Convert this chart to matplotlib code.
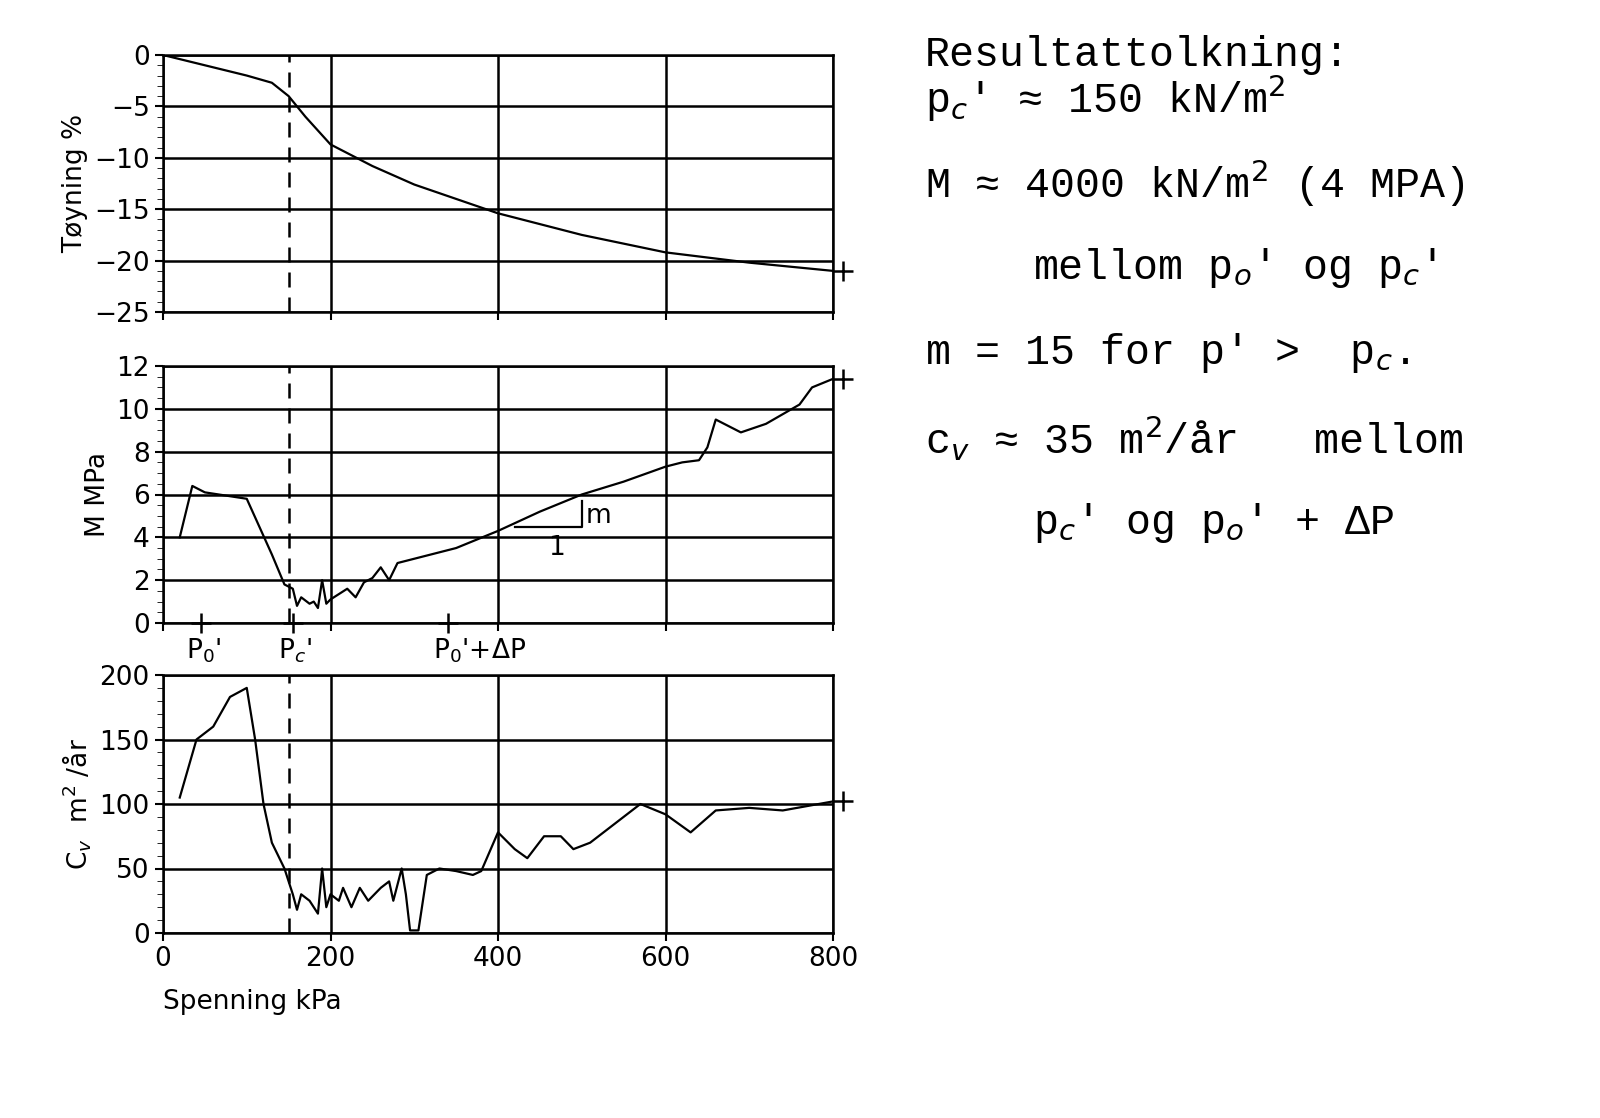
import matplotlib
matplotlib.use("Agg")
import matplotlib.pyplot as plt
from matplotlib.ticker import MultipleLocator
from matplotlib.transforms import ScaledTranslation

strain_x = [0, 50, 100, 130, 150, 170, 200, 250, 300, 400, 500, 600, 700, 800]
strain_y = [0, -1, -2, -2.7, -4, -6, -8.7, -10.8, -12.6, -15.4, -17.5, -19.2, -20.2, -21]

m_x = [20, 35, 50, 100, 130, 145, 155, 160, 165, 175, 180, 185, 190, 195, 200, 220, 230, 240, 250, 260,
       270, 280, 300, 350, 400, 450, 500, 550, 600, 620, 640, 650, 660, 690, 720, 760, 775, 800]
m_y = [4, 6.4, 6.1, 5.8, 3.2, 1.8, 1.6, 0.8, 1.2, 0.9, 1.0, 0.7, 2.0, 0.9, 1.1, 1.6, 1.2, 1.9, 2.1, 2.6,
       2.0, 2.8, 3.0, 3.5, 4.3, 5.2, 6.0, 6.6, 7.3, 7.5, 7.6, 8.2, 9.5, 8.9, 9.3, 10.2, 11.0, 11.4]

cv_x = [20, 40, 60, 80, 100, 110, 120, 130, 145, 155, 160, 165, 175, 185, 190, 195, 200, 210, 215, 225,
        235, 245, 260, 270, 275, 285, 290, 295, 305, 315, 330, 350, 370, 380, 400, 420, 435, 455, 475,
        490, 510, 540, 570, 600, 630, 660, 700, 740, 800]
cv_y = [105, 150, 160, 183, 190, 150, 100, 70, 50, 30, 18, 30, 25, 15, 50, 20, 30, 25, 35, 20,
        35, 25, 35, 40, 25, 50, 30, 2, 2, 45, 50, 48, 45, 48, 78, 65, 58, 75, 75,
        65, 70, 85, 100, 92, 78, 95, 97, 95, 102]

marker_x = [45, 155, 340]
marker_labels = ["P$_0$'", "P$_c$'", "P$_0$'+ΔP"]

info_lines = [
    ("Resultattolkning:", 0.0),
    ("p$_c$' ≈ 150 kN/m$^2$", 0.0),
    ("M ≈ 4000 kN/m$^2$ (4 MPA)", 0.0),
    ("mellom p$_o$' og p$_c$'", 0.27),
    ("m = 15 for p' >  p$_c$.", 0.0),
    ("c$_v$ ≈ 35 m$^2$/år   mellom", 0.0),
    ("p$_c$' og p$_o$' + ΔP", 0.27),
]

W, H = 1600, 1118
fig = plt.figure(figsize=(16, 11.18), dpi=100)
x0, x1 = 163, 833
def ax_at(top, bot):
    return fig.add_axes([x0 / W, 1 - bot / H, (x1 - x0) / W, (bot - top) / H])

shift = ScaledTranslation(0.1, 0, fig.dpi_scale_trans)

ax1 = ax_at(55, 312)
ax2 = ax_at(366, 623)
ax3 = ax_at(675, 933)
fs = 19
for ax in (ax1, ax2, ax3):
    ax.set_xlim(0, 800)
    ax.xaxis.set_major_locator(MultipleLocator(200))
    ax.grid(True, color="black", lw=1.8)
    for s in ax.spines.values():
        s.set_linewidth(1.8)
    ax.tick_params(labelsize=fs, width=1.5, length=6)
    ax.tick_params(which="minor", length=4)
    ax.axvline(150, color="black", ls=(0, (6, 4)), lw=1.8)

def end_plus(ax, x, y):
    ax.plot([x], [y], "k+", ms=14, mew=1.8, clip_on=False, transform=ax.transData + shift)

ax1.plot(strain_x, strain_y, color="black", lw=1.6)
end_plus(ax1, strain_x[-1], strain_y[-1])
ax1.set_ylim(-25, 0)
ax1.yaxis.set_major_locator(MultipleLocator(5))
ax1.yaxis.set_minor_locator(MultipleLocator(1))
ax1.set_xticklabels([])
ax1.set_ylabel("Tøyning %", fontsize=fs)

ax2.plot(m_x, m_y, color="black", lw=1.6)
end_plus(ax2, m_x[-1], m_y[-1])
ax2.set_ylim(0, 12)
ax2.yaxis.set_major_locator(MultipleLocator(2))
ax2.yaxis.set_minor_locator(MultipleLocator(0.5))
ax2.set_xticklabels([])
ax2.set_ylabel("M MPa", fontsize=fs)
ax2.plot([420, 500, 500], [4.5, 4.5, 5.7], color="black", lw=1.6)
ax2.text(505, 5.0, "m", fontsize=fs, va="center")
ax2.text(470, 3.5, "1", fontsize=fs, ha="center", va="center")
ax2.plot(marker_x, [0] * len(marker_x), "k+", ms=14, mew=1.8, clip_on=False)
for xm, lab in zip(marker_x, marker_labels):
    ax2.text(xm - 18, -1.3, lab, fontsize=fs, ha="left", va="center")

ax3.plot(cv_x, cv_y, color="black", lw=1.6)
end_plus(ax3, cv_x[-1], cv_y[-1])
ax3.set_ylim(0, 200)
ax3.yaxis.set_major_locator(MultipleLocator(50))
ax3.yaxis.set_minor_locator(MultipleLocator(10))
ax3.set_ylabel("C$_v$  m$^2$ /år", fontsize=fs)
ax3.set_xlabel("Spenning kPa", fontsize=fs, loc="left", labelpad=12)

y = 55
for line, ind in info_lines:
    fig.text((925 + ind * 400) / W, 1 - y / H, line, fontsize=30,
             family="Liberation Mono", va="center", ha="left")
    y += 85 if line != "Resultattolkning:" else 43
fig.savefig("out.png", dpi=100)
